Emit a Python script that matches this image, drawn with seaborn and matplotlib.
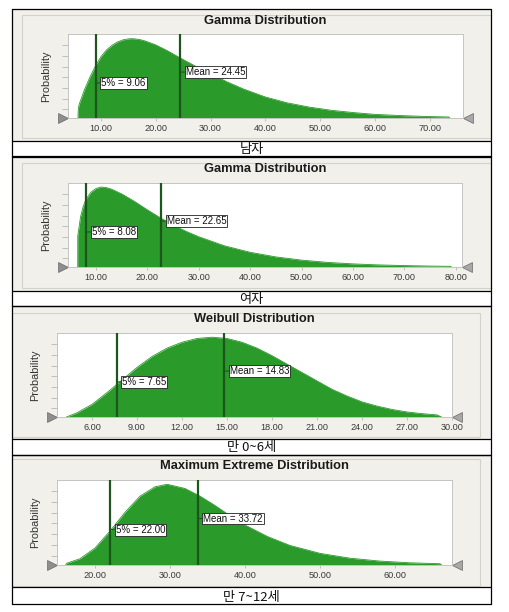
# plot.py
# Four fitted distributions (Crystal Ball style) with 5% and mean markers,
# stacked in a bordered table with Korean captions. Saves out.png (510x612).

import matplotlib
matplotlib.use("Agg")
import matplotlib.pyplot as plt
import matplotlib.patches as mpatches
import seaborn as sns

# ── Data ─────────────────────────────────────────────────────────────────────
TITLES = ["Gamma Distribution", "Gamma Distribution",
          "Weibull Distribution", "Maximum Extreme Distribution"]
CAPTIONS = ["남자", "여자", "만 0~6세", "만 7~12세"]
P5_VALUES = [9.06, 8.08, 7.65, 22.00]
MEAN_VALUES = [24.45, 22.65, 14.83, 33.72]
X_TICKS = [
    [10, 20, 30, 40, 50, 60, 70],
    [10, 20, 30, 40, 50, 60, 70, 80],
    [6, 9, 12, 15, 18, 21, 24, 27, 30],
    [20, 30, 40, 50, 60],
]

# density heights as a fraction of the plot height
MALE_X = [5.8, 5.85, 6, 7, 8, 9, 10, 11, 12, 13, 14, 15, 15.5, 16, 17, 18, 20,
          22, 24.45, 27, 30, 33, 36, 40, 44, 48, 52, 56, 60, 65, 70, 73.5, 73.6]
MALE_P = [0.0, 0.10, 0.16, 0.34, 0.49, 0.62, 0.73, 0.81, 0.865, 0.905, 0.93,
          0.942, 0.944, 0.943, 0.935, 0.918, 0.87, 0.805, 0.715, 0.625, 0.53,
          0.43, 0.345, 0.25, 0.18, 0.13, 0.092, 0.065, 0.043, 0.028, 0.017,
          0.012, 0.0]

FEMALE_X = [6.44, 6.45, 7, 7.5, 8, 9, 10, 11, 12, 13, 15, 17.5, 20, 22.65, 25,
            27.5, 30, 35, 40, 45, 50, 55, 60, 65, 70, 75, 79, 79.1]
FEMALE_P = [0.0, 0.37, 0.60, 0.72, 0.80, 0.89, 0.935, 0.952, 0.945, 0.927,
            0.87, 0.78, 0.68, 0.58, 0.50, 0.425, 0.36, 0.252, 0.175, 0.12,
            0.082, 0.055, 0.037, 0.025, 0.017, 0.011, 0.008, 0.0]

AGE06_X = [4.3, 5, 6, 7, 8, 9, 10, 11, 12, 13, 14, 15, 16, 17, 18, 19, 20, 21,
           22, 23, 24, 25, 26, 27, 28, 29, 29.3]
AGE06_P = [0.0, 0.05, 0.15, 0.29, 0.44, 0.59, 0.72, 0.82, 0.89, 0.935, 0.95,
           0.935, 0.89, 0.82, 0.73, 0.63, 0.53, 0.43, 0.33, 0.25, 0.18, 0.13,
           0.09, 0.06, 0.04, 0.025, 0.0]

AGE712_X = [16.1, 16.2, 18, 20, 22, 24, 26, 28, 29.6, 32, 34, 36, 38, 40, 43,
            46, 50, 54, 58, 62, 66, 66.2]
AGE712_P = [0.0, 0.02, 0.074, 0.20, 0.40, 0.62, 0.81, 0.92, 0.95, 0.90, 0.81,
            0.70, 0.58, 0.47, 0.335, 0.23, 0.137, 0.08, 0.046, 0.026, 0.015,
            0.0]

CURVES = [(MALE_X, MALE_P), (FEMALE_X, FEMALE_P),
          (AGE06_X, AGE06_P), (AGE712_X, AGE712_P)]

# ── Layout (pixels, y measured from the top) ─────────────────────────────────
W, H = 510, 612
TABLE_L, TABLE_R = 12, 491
PANELS = [
    dict(top=9, frame=(22, 15, 491, 138), plot=(68, 34, 463, 118),
         title_y=21, cap_line=141, cap_y=149, bottom=156, xlim=(3.98, 76.06)),
    dict(top=157, frame=(22, 163, 491, 288), plot=(68, 183, 462, 267),
         title_y=169, cap_line=291, cap_y=299, bottom=306, xlim=(4.55, 81.2)),
    dict(top=306, frame=(12, 313, 480, 437), plot=(57, 333, 452, 417),
         title_y=319, cap_line=439, cap_y=447, bottom=455, xlim=(3.67, 30.0)),
    dict(top=455, frame=(12, 459, 480, 586), plot=(57, 480, 452, 565),
         title_y=466, cap_line=587, cap_y=597, bottom=604, xlim=(14.93, 67.6)),
]
Y_TICK_MARKS = [0.11, 0.23, 0.36, 0.49, 0.61, 0.74, 0.87]

GREEN = "#2A9A2A"
LINE_GREEN = "#1D561D"
PANEL_BG = "#F1F0EA"
FRAME = "#D2D2CA"
LATIN = ["Liberation Sans", "DejaVu Sans"]
KOREAN = ["Noto Sans CJK KR", "DejaVu Sans"]

sns.set_theme(style="white")
plt.rcParams["font.family"] = LATIN


def fx(x):
    return x / W


def fy(y):
    return 1 - y / H


def draw_panel(fig, i):
    lay = PANELS[i]
    xs, ps = CURVES[i]

    # grey panel background and inner frame (kept under the axes)
    fig.patches.append(mpatches.Rectangle(
        (fx(TABLE_L), fy(lay["cap_line"])), fx(TABLE_R - TABLE_L),
        (lay["cap_line"] - lay["top"]) / H, transform=fig.transFigure,
        facecolor=PANEL_BG, edgecolor="none", zorder=-2))
    x0, y0, x1, y1 = lay["frame"]
    fig.patches.append(mpatches.Rectangle(
        (fx(x0), fy(y1)), fx(x1 - x0), (y1 - y0) / H,
        transform=fig.transFigure, facecolor="none", edgecolor=FRAME,
        lw=0.8, zorder=-1))

    px0, py0, px1, py1 = lay["plot"]
    ax = fig.add_axes([fx(px0), fy(py1), fx(px1 - px0), (py1 - py0) / H])
    ax.set_facecolor("white")

    ax.fill_between(xs, 0, ps, color=GREEN, lw=0, zorder=1)
    sns.lineplot(x=xs, y=ps, ax=ax, color=GREEN, lw=0.6, zorder=2,
                 sort=False, estimator=None)

    for val, txt, ylab in [(P5_VALUES[i], f"5% = {P5_VALUES[i]:.2f}", 0.417),
                           (MEAN_VALUES[i], f"Mean = {MEAN_VALUES[i]:.2f}", 0.547)]:
        ax.axvline(val, color=LINE_GREEN, lw=1.6, zorder=3)
        ax.annotate(txt, xy=(val, ylab), xycoords=("data", "axes fraction"),
                    xytext=(4, 0), textcoords="offset points",
                    ha="left", va="center", fontsize=7, color="#111111",
                    bbox=dict(boxstyle="square,pad=0.1", fc="white",
                              ec="#222222", lw=0.6),
                    arrowprops=dict(arrowstyle="-", color=LINE_GREEN, lw=0.8,
                                    shrinkA=0, shrinkB=0),
                    zorder=4)

    # grabber triangles at both ends of the axis
    ax.plot([-0.013], [0.0], marker=">", ms=7, color="#8E8E8E", mec="#6A6A6A",
            mew=0.5, transform=ax.transAxes, clip_on=False)
    ax.plot([1.013], [0.0], marker="<", ms=7, color="#A8A8A8", mec="#6A6A6A",
            mew=0.5, transform=ax.transAxes, clip_on=False)

    ax.set_xlim(*lay["xlim"])
    ax.set_ylim(0, 1)
    ax.set_xticks(X_TICKS[i])
    ax.set_xticklabels([f"{t:.2f}" for t in X_TICKS[i]], fontsize=6.6,
                       color="#3A3A3A")
    ax.set_yticks(Y_TICK_MARKS)
    ax.set_yticklabels([])
    ax.tick_params(axis="x", length=2, width=0.5, pad=2.5, color="#AAAAAA",
                   bottom=True)
    ax.tick_params(axis="y", length=4, width=0.5, color="#AAAAAA", left=True)
    for sp in ax.spines.values():
        sp.set_color("#C4C4C4")
        sp.set_linewidth(0.7)
    ax.set_xlabel("")
    ax.set_ylabel("Probability", fontsize=7.8, color="#333333", labelpad=5)

    fig.text(fx((px0 + px1) / 2), fy(lay["title_y"]), TITLES[i],
             ha="center", va="center", fontsize=9.3, fontweight="bold",
             color="#1A1A1A")
    fig.text(fx((TABLE_L + TABLE_R) / 2), fy(lay["cap_y"]), CAPTIONS[i],
             ha="center", va="center", fontsize=9.5, family=KOREAN,
             color="#111111")

    # table rules
    for yline in (lay["top"], lay["cap_line"], lay["bottom"]):
        fig.add_artist(plt.Line2D([fx(TABLE_L), fx(TABLE_R)], [fy(yline)] * 2,
                                  transform=fig.transFigure, color="black",
                                  lw=0.9, zorder=5))


def main():
    fig = plt.figure(figsize=(W / 100, H / 100), dpi=100)
    fig.patch.set_facecolor("white")

    for i in range(len(PANELS)):
        draw_panel(fig, i)

    for xline in (TABLE_L, TABLE_R):
        fig.add_artist(plt.Line2D([fx(xline)] * 2,
                                  [fy(PANELS[0]["top"]), fy(PANELS[-1]["bottom"])],
                                  transform=fig.transFigure, color="black",
                                  lw=0.9, zorder=5))

    fig.savefig("out.png", dpi=100)
    plt.close(fig)


if __name__ == "__main__":
    main()
